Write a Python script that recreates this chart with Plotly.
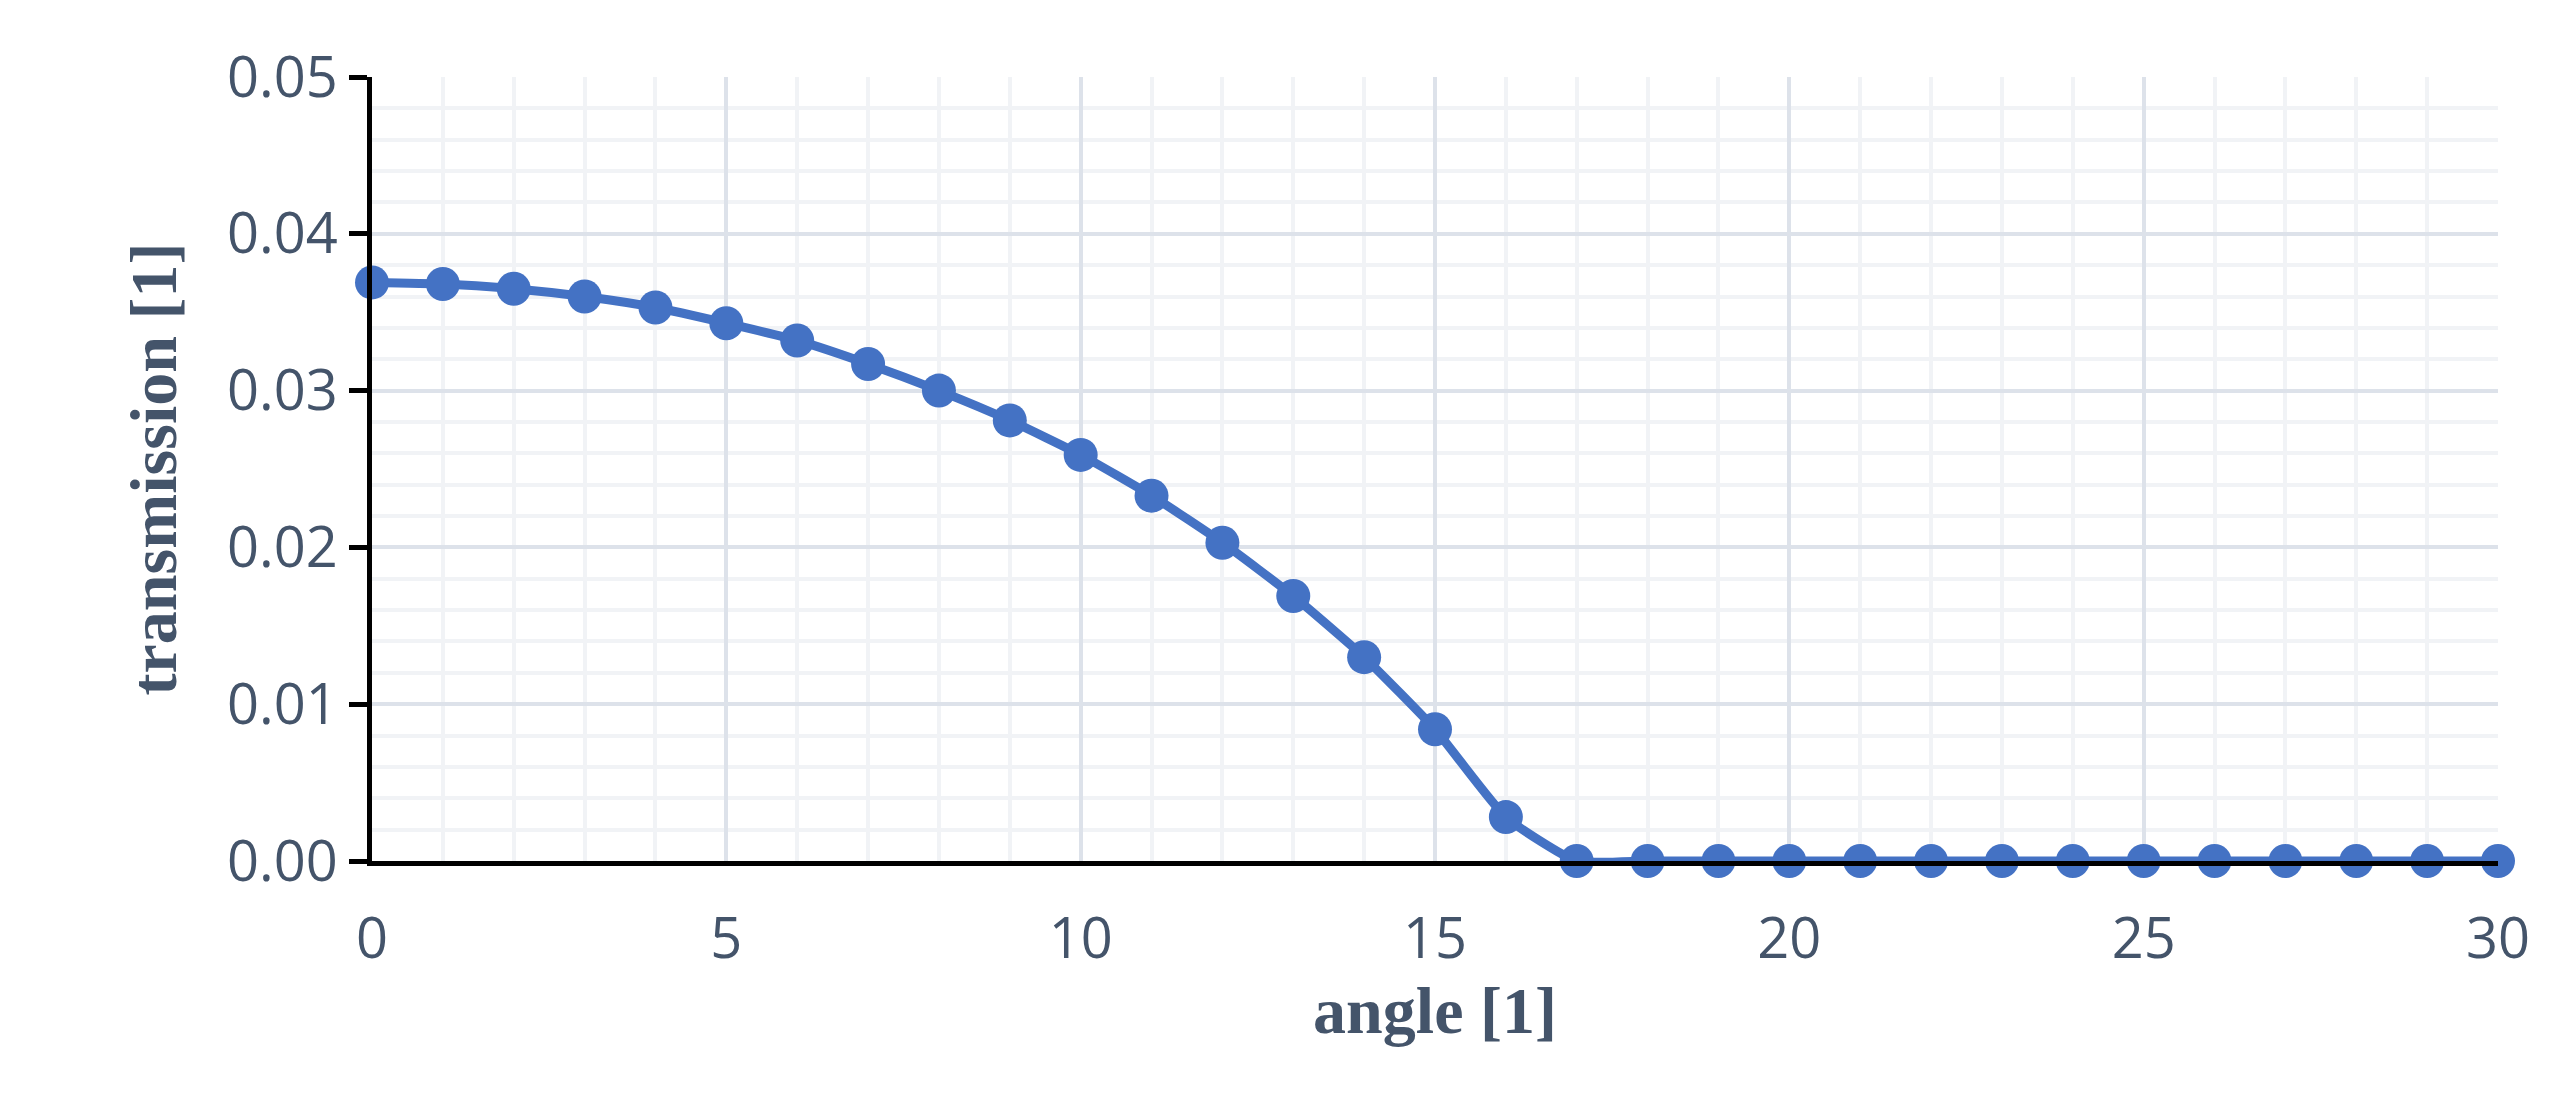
import plotly.graph_objects as go

angle = list(range(31))
transmission = [0.0369, 0.0368, 0.0365, 0.0360, 0.0353, 0.0343, 0.0332, 0.0317, 0.0300, 0.0281,
                0.0259, 0.0233, 0.0203, 0.0169, 0.0130, 0.0084, 0.0028] + [0.0] * 14
y_ticks = [0.00, 0.01, 0.02, 0.03, 0.04, 0.05]
x_ticks = [0, 5, 10, 15, 20, 25, 30]

blue = "#4472C4"
fig = go.Figure(go.Scatter(x=angle, y=transmission, mode="lines+markers",
                           line=dict(color=blue, width=9, shape="spline", smoothing=0.5),
                           marker=dict(color=blue, size=34), cliponaxis=False))
fig.update_layout(
    width=2572, height=1102, paper_bgcolor="white", plot_bgcolor="white",
    margin=dict(l=364, r=82, t=69, b=249), showlegend=False,
    font=dict(family="Open Sans", color="#44546A"),
)
fig.update_xaxes(range=[0, 30], tickvals=x_ticks, ticktext=[str(v) for v in x_ticks],
                 tickfont=dict(size=56), showgrid=True, gridcolor="#DDE2EA", gridwidth=4,
                 minor=dict(dtick=1, showgrid=True, gridcolor="#F1F3F6", gridwidth=4),
                 showline=True, linecolor="black", linewidth=5, zeroline=False, ticks="",
                 ticklabelstandoff=25,
                 title=dict(text="<b>angle [1]</b>",
                            font=dict(family="Liberation Serif", size=66, color="#44546A"),
                            standoff=10))
fig.update_yaxes(range=[0, 0.05], tickvals=y_ticks, ticktext=[f"{v:.2f}" for v in y_ticks],
                 tickfont=dict(size=56), showgrid=True, gridcolor="#DDE2EA", gridwidth=4,
                 minor=dict(dtick=0.002, showgrid=True, gridcolor="#F1F3F6", gridwidth=4),
                 showline=True, linecolor="black", linewidth=5, zeroline=False,
                 ticks="outside", ticklen=18, tickwidth=5, tickcolor="black",
                 title=dict(text="<b>transmission [1]</b>",
                            font=dict(family="Liberation Serif", size=66, color="#44546A"), standoff=30))
fig.write_html("out.html")
